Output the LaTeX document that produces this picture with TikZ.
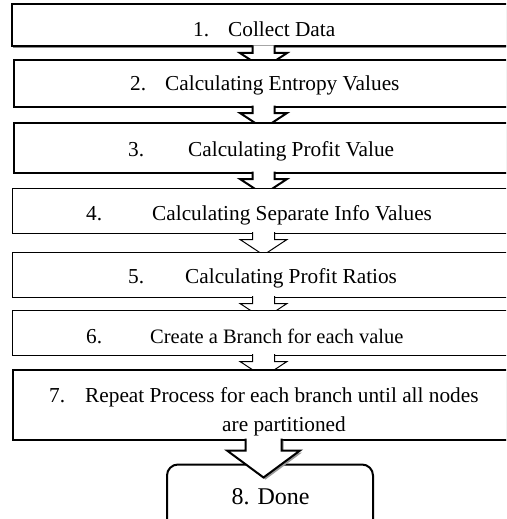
\documentclass[tikz,border=0pt]{standalone}
\usepackage{fontspec}
\setmainfont{Liberation Serif}
\usetikzlibrary{calc,shadows}

% Block arrow hanging from the bottom of a box:
% #1 source node, #2 shaft half width, #3 head half width,
% #4 shoulder drop, #5 tip drop, #6 style
\newcommand{\flowarrow}[6]{%
  \draw[#6] ($(#1.south)+(-#2,-1)$) -- ++(0,#4+1) -- ++(-#3+#2,0)
    -- ($(#1.south)+(0,#5)$) -- ($(#1.south)+(#3,#4)$) -- ++(-#3+#2,0)
    -- ($(#1.south)+(#2,-1)$);
}

\begin{document}
\begin{tikzpicture}[x=1pt,y=-1pt,
  stepbase/.style={rectangle,draw=black,fill=white,inner sep=0pt,outer sep=0pt},
  heavybox/.style={stepbase,line width=2pt,
    drop shadow={shadow xshift=1.5pt,shadow yshift=-1.5pt,fill=black!45,opacity=1}},
  lightbox/.style={stepbase,line width=1pt},
  endbox/.style={stepbase,line width=2pt,rounded corners=11pt},
  num/.style={anchor=base west,inner sep=0pt,font=\fontsize{21.3}{25}\selectfont},
  txt/.style={anchor=base west,inner sep=0pt,font=\fontsize{21.3}{25}\selectfont},
  heavyarrow/.style={draw=black,fill=white,line width=2pt,line join=miter},
  lightarrow/.style={draw=black,fill=white,line width=1pt,line join=miter},
  bigarrow/.style={draw=black,fill=white,line width=2pt,line join=miter,
    drop shadow={shadow xshift=2pt,shadow yshift=-2pt,fill=black!40,opacity=1}}
]
\useasboundingbox (0,0) rectangle (506,519);
\fill[white] (0,0) rectangle (506,519);
\clip (0,0) rectangle (506,519);

% Step 1
\node[heavybox,minimum width=504pt,minimum height=42pt] (b1) at (263.5,25.5) {};
\node[num] (n1) at (193,36.5) {1.};
\node[txt] (t1) at (228,36.5) {Collect Data};
\flowarrow{b1}{11}{23.5}{6.5}{22}{heavyarrow}

% Step 2
\node[heavybox,minimum width=499pt,minimum height=46.5pt] (b2) at (263.5,83.25) {};
\node[num] (n2) at (130,90) {2.};
\node[txt] (t2) at (165,90) {Calculating Entropy Values};
\flowarrow{b2}{11}{23.5}{6.5}{22}{heavyarrow}

% Step 3
\node[heavybox,minimum width=499pt,minimum height=49.5pt] (b3) at (263.5,147.75) {};
\node[num] (n3) at (128,156) {3.};
\node[txt] (t3) at (188,156) {Calculating Profit Value};
\flowarrow{b3}{11}{23.5}{6.5}{22}{heavyarrow}

% Step 4
\node[lightbox,minimum width=503pt,minimum height=44.5pt] (b4) at (263.5,210.75) {};
\node[num] (n4) at (86,220) {4.};
\node[txt] (t4) at (152,220) {Calculating Separate Info Values};
\flowarrow{b4}{11}{23.5}{6.5}{22}{lightarrow}

% Step 5
\node[lightbox,minimum width=503pt,minimum height=45pt] (b5) at (263.5,274.5) {};
\node[num] (n5) at (128,283) {5.};
\node[txt] (t5) at (185,283) {Calculating Profit Ratios};
\flowarrow{b5}{11}{23.5}{6.5}{22}{lightarrow}

% Step 6
\node[lightbox,minimum width=503pt,minimum height=45pt] (b6) at (263.5,332.5) {};
\node[num] (n6) at (86,343) {6.};
\node[txt,font=\fontsize{20.5}{24}\selectfont] (t6) at (150,343) {Create a Branch for each value};
\flowarrow{b6}{11}{23.5}{6.5}{22}{lightarrow}

% Step 7
\node[heavybox,minimum width=501pt,minimum height=69.5pt] (b7) at (263.5,404.75) {};
\node[num] (n7) at (49,402) {7.};
\node[txt] (t7) at (85,402) {Repeat Process for each branch until all nodes};
\node[txt] (t7b) at (222,431.5) {are partitioned};

% Step 8
\node[endbox,minimum width=206pt,minimum height=80.5pt] (b8) at (270,504.75) {};
\node[anchor=base,inner sep=0pt,font=\fontsize{24}{28}\selectfont] (t8) at (270.5,504) {8. Done};
\flowarrow{b7}{18}{36.5}{11}{38}{bigarrow}
\end{tikzpicture}
\end{document}
